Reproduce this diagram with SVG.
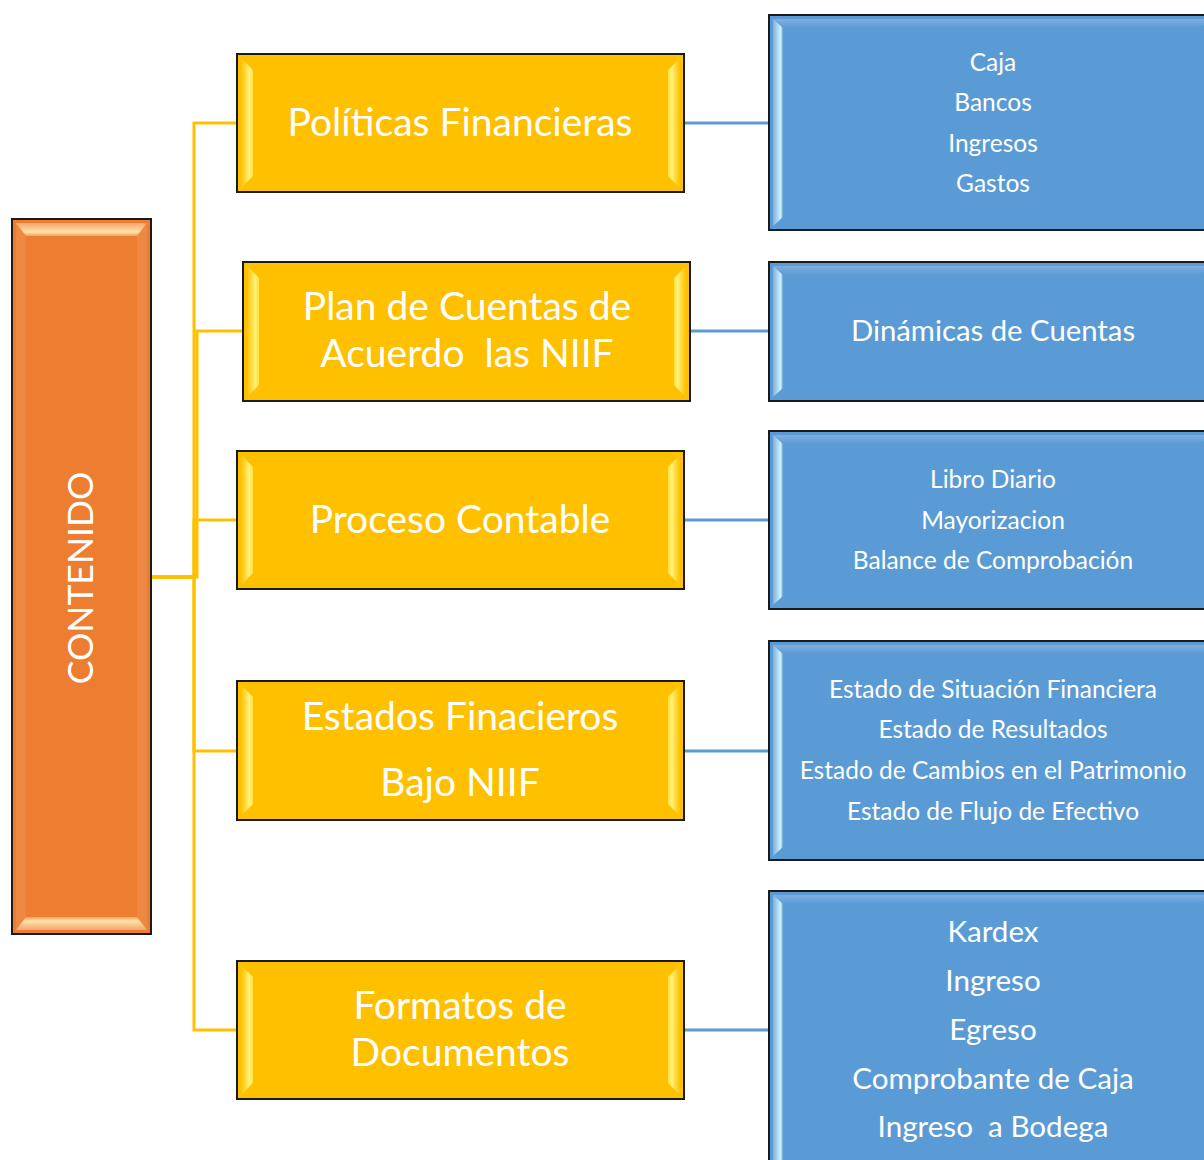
<svg xmlns="http://www.w3.org/2000/svg" width="1204" height="1160" viewBox="0 0 1204 1160">
<defs>
<linearGradient id="yl" x1="0" y1="0" x2="1" y2="0"><stop offset="0" stop-color="#FFC000"/><stop offset="0.7" stop-color="#FFF27A"/><stop offset="1" stop-color="#FFE040"/></linearGradient>
<linearGradient id="yr" x1="1" y1="0" x2="0" y2="0"><stop offset="0" stop-color="#FFC000"/><stop offset="0.7" stop-color="#FFF27A"/><stop offset="1" stop-color="#FFE040"/></linearGradient>
<linearGradient id="ot" x1="0" y1="0" x2="0" y2="1"><stop offset="0" stop-color="#F4A46C"/><stop offset="0.7" stop-color="#FFE3A8"/><stop offset="1" stop-color="#F2A060"/></linearGradient>
<linearGradient id="ob" x1="0" y1="1" x2="0" y2="0"><stop offset="0" stop-color="#F4A46C"/><stop offset="0.7" stop-color="#FFE3A8"/><stop offset="1" stop-color="#F2A060"/></linearGradient>
<linearGradient id="bl" x1="0" y1="0" x2="1" y2="0"><stop offset="0" stop-color="#7FAEDD"/><stop offset="0.75" stop-color="#CDF2FF"/><stop offset="1" stop-color="#6FA6DA"/></linearGradient>
<linearGradient id="bt" x1="0" y1="0" x2="0" y2="1"><stop offset="0" stop-color="#7FAEDD"/><stop offset="1" stop-color="#5B9BD5"/></linearGradient>
</defs>
<style>
.yb{fill:#FFC000;stroke:#1a1a1a;stroke-width:2}
.ob{fill:#ED7D31;stroke:#1a1a1a;stroke-width:2}
.bb{fill:#5B9BD5;stroke:#1a1a1a;stroke-width:2}
.yc{fill:none;stroke:#FFC000;stroke-width:3}
.bc{fill:none;stroke:#5B9BD5;stroke-width:3}
text{font-family:Lato,"Open Sans","Liberation Sans",sans-serif;fill:#fff;text-anchor:middle;dominant-baseline:central}
.t1{font-size:39px}
.t0{font-size:35.5px}
.t2{font-size:24.5px}
.t3{font-size:29.3px}
.t4{font-size:29.6px}
</style>
<g id="connectors">
<path class="yc" d="M151,577 H194 V123 H237"/>
<path class="yc" d="M151,577 H197 V331 H243"/>
<path class="yc" d="M151,577 H194 V520 H237"/>
<path class="yc" d="M151,577 H194 V751 H237"/>
<path class="yc" d="M151,577 H194 V1030 H237"/>
<path class="bc" d="M684,123 H769"/>
<path class="bc" d="M690,331 H769"/>
<path class="bc" d="M684,520 H769"/>
<path class="bc" d="M684,751 H769"/>
<path class="bc" d="M684,1030 H769"/>
</g>
<g id="contenido">
<rect class="ob" x="12" y="219" width="139" height="715"/>
<polygon fill="url(#ot)" points="16,223 147,223 137,236 26,236"/>
<polygon fill="url(#ob)" points="16,930 147,930 137,917 26,917"/>
<polygon fill="#F1A06A" points="16,223 26,236 26,917 16,930" opacity="0.35"/>
<polygon fill="#F1A06A" points="147,223 137,236 137,917 147,930" opacity="0.35"/>
<text class="t0" transform="translate(79,578) rotate(-90)">CONTENIDO</text>
</g>
<g id="politicas">
<rect class="yb" x="237" y="54" width="447" height="138"/>
<polygon fill="url(#yl)" points="241,58 253,70 253,176 241,188"/>
<polygon fill="url(#yr)" points="680,58 668,70 668,176 680,188"/>
<text class="t1" x="460" y="121">Políticas Financieras</text>
</g>
<g id="plan">
<rect class="yb" x="243" y="262" width="447" height="139"/>
<polygon fill="url(#yl)" points="247,266 259,278 259,385 247,397"/>
<polygon fill="url(#yr)" points="686,266 674,278 674,385 686,397"/>
<text class="t1" x="467" y="305">Plan de Cuentas de</text>
<text class="t1" x="467" y="352" xml:space="preserve">Acuerdo  las NIIF</text>
</g>
<g id="proceso">
<rect class="yb" x="237" y="451" width="447" height="138"/>
<polygon fill="url(#yl)" points="241,455 253,467 253,573 241,585"/>
<polygon fill="url(#yr)" points="680,455 668,467 668,573 680,585"/>
<text class="t1" x="460" y="518">Proceso Contable</text>
</g>
<g id="estados">
<rect class="yb" x="237" y="681" width="447" height="139"/>
<polygon fill="url(#yl)" points="241,685 253,697 253,804 241,816"/>
<polygon fill="url(#yr)" points="680,685 668,697 668,804 680,816"/>
<text class="t1" x="460" y="715">Estados Finacieros</text>
<text class="t1" x="460" y="781">Bajo NIIF</text>
</g>
<g id="formatos">
<rect class="yb" x="237" y="961" width="447" height="138"/>
<polygon fill="url(#yl)" points="241,965 253,977 253,1083 241,1095"/>
<polygon fill="url(#yr)" points="680,965 668,977 668,1083 680,1095"/>
<text class="t1" x="460" y="1004">Formatos de</text>
<text class="t1" x="460" y="1051">Documentos</text>
</g>
<g id="cuentas">
<rect class="bb" x="769" y="15" width="450" height="215"/>
<polygon fill="url(#bt)" points="773,19 1210,19 1200,28 783,28"/>
<polygon fill="url(#bl)" points="773,19 783,28 783,217 773,226"/>
<text class="t2" x="993" y="61">Caja</text>
<text class="t2" x="993" y="101">Bancos</text>
<text class="t2" x="993" y="142">Ingresos</text>
<text class="t2" x="993" y="182">Gastos</text>
</g>
<g id="dinamicas">
<rect class="bb" x="769" y="262" width="450" height="139"/>
<polygon fill="url(#bt)" points="773,266 1210,266 1200,275 783,275"/>
<polygon fill="url(#bl)" points="773,266 783,275 783,388 773,397"/>
<text class="t3" x="993" y="329">Dinámicas de Cuentas</text>
</g>
<g id="libros">
<rect class="bb" x="769" y="431" width="450" height="178"/>
<polygon fill="url(#bt)" points="773,435 1210,435 1200,444 783,444"/>
<polygon fill="url(#bl)" points="773,435 783,444 783,596 773,605"/>
<text class="t2" x="993" y="478">Libro Diario</text>
<text class="t2" x="993" y="519">Mayorizacion</text>
<text class="t2" x="993" y="559">Balance de Comprobación</text>
</g>
<g id="estadosfin">
<rect class="bb" x="769" y="641" width="450" height="219"/>
<polygon fill="url(#bt)" points="773,645 1210,645 1200,654 783,654"/>
<polygon fill="url(#bl)" points="773,645 783,654 783,847 773,856"/>
<text class="t2" x="993" y="688">Estado de Situación Financiera</text>
<text class="t2" x="993" y="728">Estado de Resultados</text>
<text class="t2" x="993" y="769">Estado de Cambios en el Patrimonio</text>
<text class="t2" x="993" y="810">Estado de Flujo de Efectivo</text>
</g>
<g id="documentos">
<rect class="bb" x="769" y="891" width="450" height="290"/>
<polygon fill="url(#bt)" points="773,895 1210,895 1200,904 783,904"/>
<polygon fill="url(#bl)" points="773,895 783,904 783,1170 773,1175"/>
<text class="t4" x="993" y="930">Kardex</text>
<text class="t4" x="993" y="979">Ingreso</text>
<text class="t4" x="993" y="1028">Egreso</text>
<text class="t4" x="993" y="1077">Comprobante de Caja</text>
<text class="t4" x="993" y="1125" xml:space="preserve">Ingreso  a Bodega</text>
</g>
</svg>
